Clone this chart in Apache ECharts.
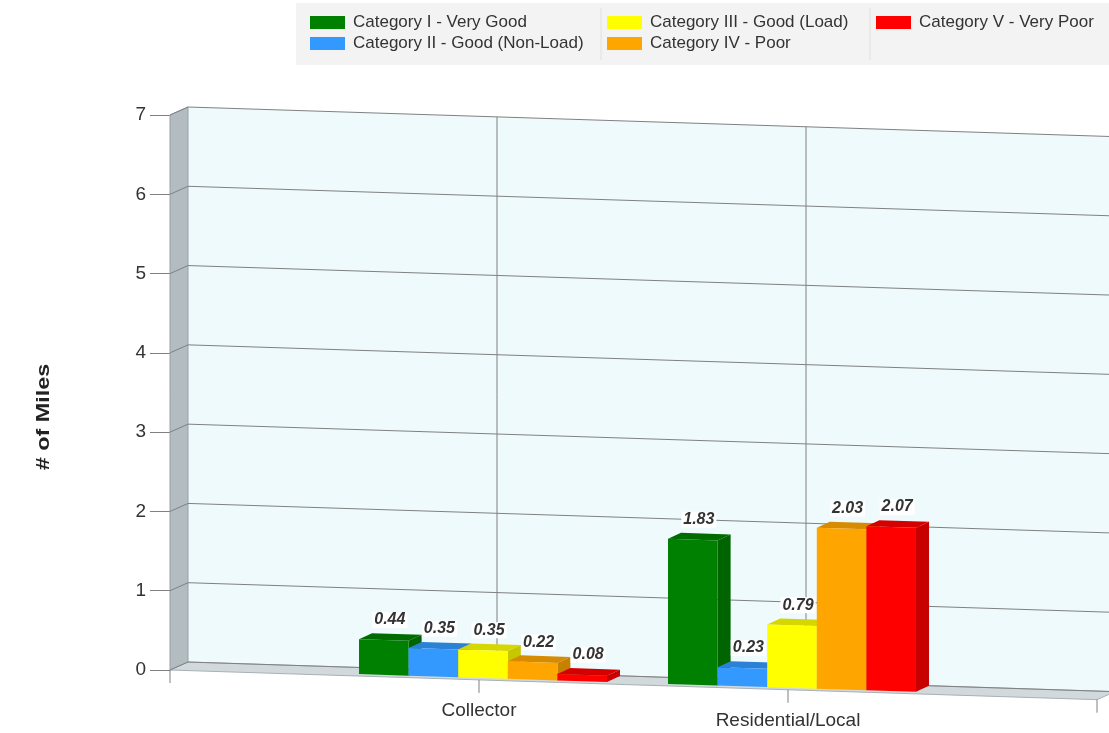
<!DOCTYPE html>
<html>
<head>
<meta charset="utf-8">
<title># of Miles by Category</title>
<script src="https://cdn.jsdelivr.net/npm/echarts@6/dist/echarts.min.js"></script>
<style>
  html, body { margin: 0; padding: 0; background: #fff; }
  #chart { width: 1109px; height: 733px; }
</style>
</head>
<body>
<div id="chart"></div>
<script>
// DATA
var categories = ["Collector", "Residential/Local"];
var seriesNames = [
  "Category I - Very Good",
  "Category II - Good (Non-Load)",
  "Category III - Good (Load)",
  "Category IV - Poor",
  "Category V - Very Poor"
];
var catI = [0.44, 1.83];
var catII = [0.35, 0.23];
var catIII = [0.35, 0.79];
var catIV = [0.22, 2.03];
var catV = [0.08, 2.07];
var yTicks = [0, 1, 2, 3, 4, 5, 6, 7];

var seriesValues = [catI, catII, catIII, catIV, catV];
var colors = ["#008000", "#3399ff", "#ffff00", "#ffa500", "#ff0000"];

// fake 3d look: the floor slopes down to the right, walls sit behind
var SLOPE = 0.032;
var WALL_D = [18, -8];
var BAR_OFF = [4, -2];
var BAR_D = [13, -6];
var FONT = '"Liberation Sans", Arial, sans-serif';

// x axis has an empty slot at each end so the categories sit on ticks
var xData = [""].concat(categories).concat([""]);

function shade(hex, f) {
  var n = parseInt(hex.slice(1), 16);
  var r = Math.round(((n >> 16) & 255) * f);
  var g = Math.round(((n >> 8) & 255) * f);
  var b = Math.round((n & 255) * f);
  return "rgb(" + r + "," + g + "," + b + ")";
}

function renderFrame(params, api) {
  var x0 = params.coordSys.x;
  var last = xData.length - 1;
  var top = yTicks[yTicks.length - 1];
  function front(i, v) {
    var p = api.coord([i, v]);
    return [p[0], p[1] + SLOPE * (p[0] - x0)];
  }
  function back(i, v) {
    var p = front(i, v);
    return [p[0] + WALL_D[0], p[1] + WALL_D[1]];
  }
  var grid = { stroke: "#808080", lineWidth: 1 };
  var children = [];

  // back wall
  children.push({
    type: "polygon",
    shape: { points: [back(0, top), back(last, top), back(last, 0), back(0, 0)] },
    style: { fill: "#eefafc" }
  });
  // left wall
  children.push({
    type: "polygon",
    shape: { points: [front(0, top), back(0, top), back(0, 0), front(0, 0)] },
    style: { fill: "#b3bdc1", stroke: "#97a1a5", lineWidth: 1 }
  });
  // floor
  children.push({
    type: "polygon",
    shape: { points: [front(0, 0), back(0, 0), back(last, 0), front(last, 0)] },
    style: { fill: "#d2d9dc", stroke: "#a8b1b5", lineWidth: 1 }
  });

  // horizontal grid lines + connectors on the left wall
  yTicks.forEach(function (v) {
    var a = back(0, v), b = back(last, v), f = front(0, v);
    children.push({ type: "line", shape: { x1: a[0], y1: a[1], x2: b[0], y2: b[1] }, style: grid });
    children.push({ type: "line", shape: { x1: f[0], y1: f[1], x2: a[0], y2: a[1] }, style: grid });
  });

  // vertical grid lines on back wall, ticks and category labels
  for (var i = 0; i <= last; i++) {
    var a = back(i, 0), b = back(i, top), f = front(i, 0);
    if (i > 0) {
      children.push({ type: "line", shape: { x1: a[0], y1: a[1], x2: b[0], y2: b[1] }, style: grid });
    }
    children.push({ type: "line", shape: { x1: f[0], y1: f[1], x2: f[0], y2: f[1] + 13 }, style: grid });
    if (xData[i]) {
      children.push({
        type: "text",
        x: f[0],
        y: f[1] + 31,
        style: {
          text: xData[i],
          font: "19px " + FONT,
          fill: "#333",
          align: "center",
          verticalAlign: "middle"
        }
      });
    }
  }
  return { type: "group", children: children };
}

function makeBarRender(k) {
  return function (params, api) {
    var x0 = params.coordSys.x;
    var idx = api.value(0);
    var val = api.value(1);
    var p0 = api.coord([idx, 0]);
    var p1 = api.coord([idx, val]);
    var bw = api.size([1, 0])[0] * 0.1605;
    var xl = p0[0] - 2.5 * bw + k * bw + BAR_OFF[0];
    var xr = xl + bw;
    function pt(x, y) {
      return [x, y + SLOPE * (x - x0) + BAR_OFF[1]];
    }
    function dp(p) {
      return [p[0] + BAR_D[0], p[1] + BAR_D[1]];
    }
    var tl = pt(xl, p1[1]), tr = pt(xr, p1[1]);
    var bl = pt(xl, p0[1]), br = pt(xr, p0[1]);
    var c = colors[k];
    var cx = (xl + xr) / 2;
    var ct = pt(cx, p1[1]);
    return {
      type: "group",
      children: [
        { type: "polygon", shape: { points: [tr, br, dp(br), dp(tr)] }, style: { fill: shade(c, 0.78) } },
        { type: "polygon", shape: { points: [tl, tr, dp(tr), dp(tl)] }, style: { fill: shade(c, 0.84) } },
        { type: "polygon", shape: { points: [tl, tr, br, bl] }, style: { fill: c } },
        {
          type: "text",
          z2: 100,
          x: cx + 6,
          y: ct[1] - 20,
          style: {
            text: val.toFixed(2),
            font: "italic bold 16px " + FONT,
            fill: "#333",
            align: "center",
            verticalAlign: "middle",
            backgroundColor: "#fff",
            padding: [0, 2]
          }
        }
      ]
    };
  };
}

var myChart = echarts.init(document.getElementById("chart"));

var series = [
  {
    type: "custom",
    z: 1,
    silent: true,
    renderItem: renderFrame,
    data: [[0, 0]]
  }
];
seriesValues.forEach(function (vals, k) {
  series.push({
    type: "custom",
    name: seriesNames[k],
    z: 2,
    itemStyle: { color: colors[k] },
    renderItem: makeBarRender(k),
    encode: { x: 0, y: 1 },
    data: vals.map(function (v, i) {
      return [i + 1, v];
    })
  });
});

var legendBase = {
  orient: "vertical",
  top: 14,
  padding: 0,
  itemWidth: 35,
  itemHeight: 13,
  itemGap: 4,
  icon: "rect",
  selectedMode: false,
  textStyle: { fontSize: 17, color: "#333", fontFamily: FONT, padding: [0, 0, 0, 3] }
};

var option = {
  animation: false,
  backgroundColor: "#fff",
  grid: { left: 170, right: 12, top: 115, bottom: 63 },
  xAxis: {
    type: "category",
    data: xData,
    boundaryGap: false,
    axisLine: { show: false },
    axisTick: { show: false },
    axisLabel: { show: false },
    splitLine: { show: false }
  },
  yAxis: {
    type: "value",
    min: 0,
    max: 7,
    interval: 1,
    axisLine: { show: false },
    axisTick: { show: true, length: 20, lineStyle: { color: "#808080" } },
    axisLabel: { margin: 24, fontSize: 19, color: "#333", fontFamily: FONT },
    splitLine: { show: false }
  },
  legend: [
    Object.assign({}, legendBase, { left: 310, data: [seriesNames[0], seriesNames[1]] }),
    Object.assign({}, legendBase, { left: 607, data: [seriesNames[2], seriesNames[3]] }),
    Object.assign({}, legendBase, { left: 876, data: [seriesNames[4]] })
  ],
  graphic: [
    { type: "rect", z: 0, shape: { x: 296, y: 3, width: 813, height: 62 }, style: { fill: "#f3f3f3" } },
    { type: "line", z: 0, shape: { x1: 601, y1: 8, x2: 601, y2: 60 }, style: { stroke: "#e0e0e0" } },
    { type: "line", z: 0, shape: { x1: 870, y1: 8, x2: 870, y2: 60 }, style: { stroke: "#e0e0e0" } },
    {
      type: "text",
      x: 44,
      y: 417,
      rotation: Math.PI / 2,
      scaleX: 1.3,
      style: {
        text: "# of Miles",
        font: "bold 18px " + FONT,
        fill: "#222",
        align: "center",
        verticalAlign: "middle"
      }
    }
  ],
  series: series
};

myChart.setOption(option);

window.addEventListener("resize", function () {
  myChart.resize();
});
</script>
</body>
</html>
